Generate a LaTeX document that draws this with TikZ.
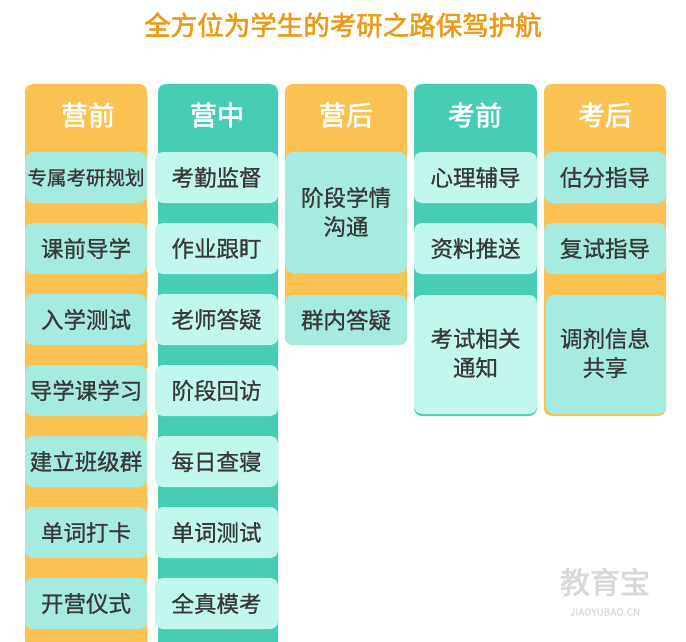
\documentclass[tikz,border=0pt]{standalone}
\usepackage{fontspec}
\setmainfont{Noto Sans CJK SC}[FakeBold=0.8]
\newfontfamily\bfcjk{Noto Sans CJK SC}[FakeBold=2]
\begin{document}
\begin{tikzpicture}[x=1pt,y=-1pt,
 col/.style={rounded corners=8pt},
 hd/.style={text=white,font=\bfcjk\fontsize{27}{30}\selectfont},
 itm/.style={rounded corners=8pt,text=black!78,font=\fontsize{22.5}{29}\selectfont,align=center}]
\definecolor{orng}{HTML}{FBC252}\definecolor{teal2}{HTML}{48CDB5}
\definecolor{itemO}{HTML}{A5EBDF}\definecolor{itemT}{HTML}{C2F7EE}
\definecolor{ttl}{HTML}{EC9A14}
\useasboundingbox (0,0) rectangle (686,642);
\fill[white] (0,0) rectangle (686,642);
\node[text=ttl,font=\bfcjk\fontsize{26.5}{30}\selectfont] (title) at (343,25) {全方位为学生的考研之路保驾护航};
\begin{scope}
\clip (0,0) rectangle (686,642);
\fill[orng,col] (25,84) rectangle (147,660);
\fill[teal2,col] (158,84) rectangle (278,660);
\end{scope}
\fill[orng,col] (285,84) rectangle (407,345);
\fill[teal2,col] (414,84) rectangle (537,416);
\fill[orng,col] (544,84) rectangle (666,416);
\node[hd] (h1) at (88,115) {营前};
\node[hd] (h2) at (217,115) {营中};
\node[hd] (h3) at (346,115) {营后};
\node[hd] (h4) at (475,115) {考前};
\node[hd] (h5) at (605,115) {考后};
\foreach \t [count=\i] in {专属考研规划,课前导学,入学测试,导学课学习,建立班级群,单词打卡,开营仪式}{
 \pgfmathsetmacro{\yy}{152+(\i-1)*71}
 \fill[itemO,itm] (25,\yy) rectangle (147,\yy+51);
 \node[itm,font=\fontsize{\ifnum\i=1 19.5\else 22.5\fi}{24}\selectfont] (a\i) at (86,\yy+25.5) {\t};
}
\foreach \t [count=\i] in {考勤监督,作业跟盯,老师答疑,阶段回访,每日查寝,单词测试,全真模考}{
 \pgfmathsetmacro{\yy}{152+(\i-1)*71}
 \fill[itemT,itm] (155,\yy) rectangle (278,\yy+51);
 \node[itm] (b\i) at (216.5,\yy+25.5) {\t};
}
\fill[itemO,itm] (285,152) rectangle (407,273);
\node[itm] (c1) at (346,212) {阶段学情\\沟通};
\fill[itemO,itm] (285,295) rectangle (407,345);
\node[itm] (c2) at (346,320) {群内答疑};
\fill[itemT,itm] (414,152) rectangle (537,203);
\node[itm] (d1) at (475.5,177.5) {心理辅导};
\fill[itemT,itm] (414,223) rectangle (537,274);
\node[itm] (d2) at (475.5,248.5) {资料推送};
\fill[itemT,itm] (414,295) rectangle (537,414);
\node[itm] (d3) at (475.5,353) {考试相关\\通知};
\fill[itemO,itm] (544,152) rectangle (666,203);
\node[itm] (e1) at (605,177.5) {估分指导};
\fill[itemO,itm] (544,223) rectangle (666,274);
\node[itm] (e2) at (605,248.5) {复试指导};
\fill[itemO,itm] (546,295) rectangle (666,414);
\node[itm] (e3) at (605,353) {调剂信息\\共享};
\node[text=black!15,font=\bfcjk\fontsize{30}{32}\selectfont] (wm) at (605,582) {教育宝};
\node[text=black!15,font=\fontsize{10}{11}\selectfont] (wm2) at (605,612) {JIAOYUBAO.CN};
\end{tikzpicture}
\end{document}
